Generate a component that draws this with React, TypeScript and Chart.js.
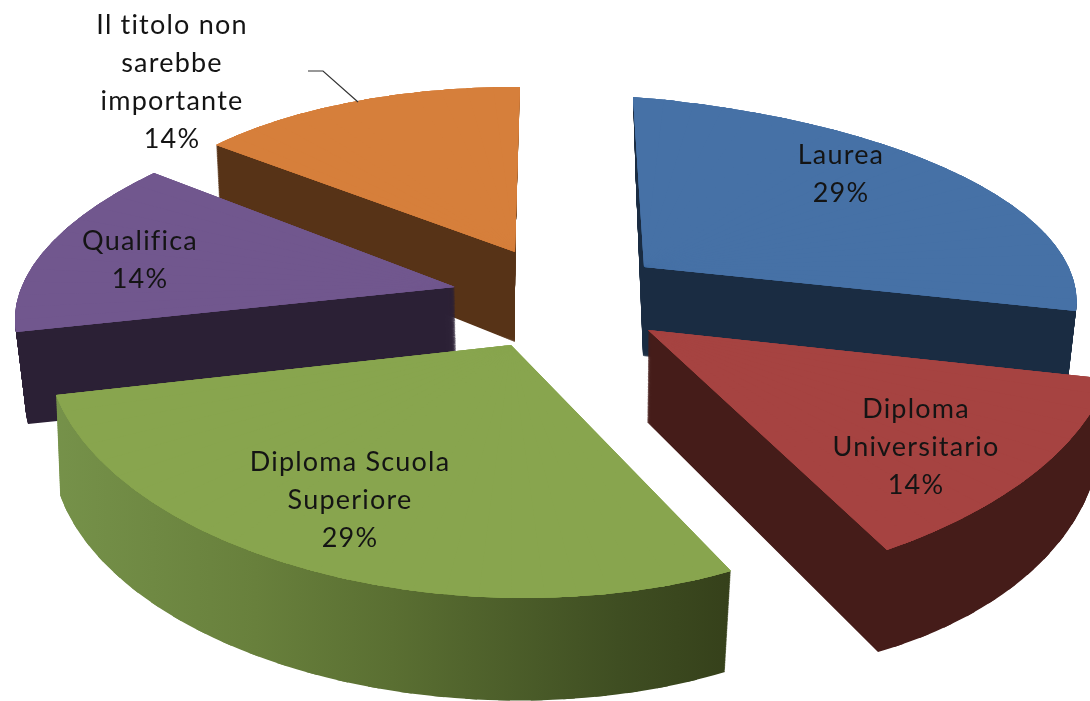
import React, { useEffect, useRef } from "react";
import { Chart, registerables } from "chart.js";

Chart.register(...registerables);

// ---- data ----
const categories = ["Laurea", "Diploma Universitario", "Diploma Scuola Superiore", "Qualifica", "Il titolo non sarebbe importante"];
const seriesValues = [2, 1, 2, 1, 1];
const labelLines = [["Laurea"], ["Diploma", "Universitario"], ["Diploma Scuola", "Superiore"], ["Qualifica"], ["Il titolo non", "sarebbe", "importante"]];

// ---- style ----
const topColors = ["#4671a6", "#a64341", "#88a54e", "#71578e", "#d67f3b"];
const wallStops: [number, string][][] = [
  [[0, "#1a2c42"], [1, "#1a2c42"]],
  [[0, "#451c19"], [1, "#451c19"]],
  [[0, "#76924a"], [0.3, "#68803c"], [0.5, "#5a6f32"], [0.83, "#3f4e22"], [1, "#35401a"]],
  [[0, "#2b2035"], [1, "#2b2035"]],
  [[0, "#573317"], [1, "#573317"]],
];
const drawOrder = [0, 1, 4, 3, 2];

// Camera of the exploded perspective pie: where each wedge's centre, arc start,
// arc middle and arc end land, for its upper and lower face.
type P = [number, number];
const viewTop: P[][] = [
  [[644, 267], [633, 97], [960, 175], [1076, 311]],
  [[648, 330], [1108, 379], [1033, 474], [887, 550]],
  [[511, 345], [731, 571], [317, 572], [56, 395]],
  [[455, 287], [16, 332], [45, 250], [154, 173]],
  [[515, 252], [216, 145], [352, 102], [520, 87]],
];
const viewBottom: P[][] = [
  [[643, 356], [636, 186], [952, 263], [1066, 397]],
  [[647, 422], [1098, 462], [1025, 577], [878, 652]],
  [[511, 445], [725, 672], [317, 675], [60, 495]],
  [[457, 380], [28, 424], [52, 340], [160, 265]],
  [[515, 342], [220, 224], [352, 185], [511, 175]],
];
const labelPos: P[] = [[841, 155], [916, 409], [350, 462], [140, 241], [172, 25]];
const lineGap = 38;
const leader: P[] = [[308, 71], [323, 71], [358, 102]];

type M = number[];

function solve(a: number[][], b: number[]): number[] {
  const n = b.length;
  const m = a.map((r, i) => [...r, b[i]]);
  for (let c = 0; c < n; c++) {
    let p = c;
    for (let r = c + 1; r < n; r++) if (Math.abs(m[r][c]) > Math.abs(m[p][c])) p = r;
    [m[c], m[p]] = [m[p], m[c]];
    for (let r = 0; r < n; r++) {
      if (r === c) continue;
      const f = m[r][c] / m[c][c];
      for (let k = c; k <= n; k++) m[r][k] -= f * m[c][k];
    }
  }
  return m.map((r, i) => r[n] / r[i]);
}

// projective map from the unit-circle wedge to the four camera points
function homography(src: P[], dst: P[]) {
  const a: number[][] = [];
  const b: number[] = [];
  src.forEach(([x, y], i) => {
    const [u, v] = dst[i];
    a.push([x, y, 1, 0, 0, 0, -u * x, -u * y]);
    b.push(u);
    a.push([0, 0, 0, x, y, 1, -v * x, -v * y]);
    b.push(v);
  });
  const h = solve(a, b);
  return (x: number, y: number): P => {
    const w = h[6] * x + h[7] * y + 1;
    return [(h[0] * x + h[1] * y + h[2]) / w, (h[3] * x + h[4] * y + h[5]) / w];
  };
}

// affine matrix taking the chart-space wedge (s..e) onto three projected points
function wedgeMatrix(cx: number, cy: number, r: number, s: number, e: number, A: P, p: P, q: P): M {
  const ux = r * Math.cos(s), uy = r * Math.sin(s);
  const vx = r * Math.cos(e), vy = r * Math.sin(e);
  const det = ux * vy - uy * vx;
  const px = p[0] - A[0], py = p[1] - A[1];
  const qx = q[0] - A[0], qy = q[1] - A[1];
  const a = (px * vy - qx * uy) / det;
  const c = (qx * ux - px * vx) / det;
  const b = (py * vy - qy * uy) / det;
  const d = (qy * ux - py * vx) / det;
  return [a, b, c, d, A[0] - a * cx - c * cy, A[1] - b * cx - d * cy];
}

function wedgeMatrices(arc: any, pts: P[], n: number): M[] {
  const s = arc.startAngle, e = arc.endAngle;
  const mid = (s + e) / 2;
  const H = homography(
    [[0, 0], [Math.cos(s), Math.sin(s)], [Math.cos(mid), Math.sin(mid)], [Math.cos(e), Math.sin(e)]],
    pts
  );
  const out: M[] = [];
  for (let k = 0; k < n; k++) {
    const a0 = s + ((e - s) * k) / n;
    const a1 = s + ((e - s) * (k + 1)) / n;
    out.push(
      wedgeMatrix(arc.x, arc.y, arc.outerRadius, a0, a1, H(0, 0), H(Math.cos(a0), Math.sin(a0)), H(Math.cos(a1), Math.sin(a1)))
    );
  }
  return out;
}

function drawWedge(ctx: CanvasRenderingContext2D, arc: any, a0: number, a1: number, m: M) {
  arc.startAngle = a0;
  arc.endAngle = a1;
  arc.circumference = a1 - a0;
  ctx.save();
  ctx.transform(m[0], m[1], m[2], m[3], m[4], m[5]);
  arc.draw(ctx);
  ctx.restore();
}

function drawFace(ctx: CanvasRenderingContext2D, arc: any, s: number, e: number, ms: M[], color: string) {
  const original = arc.options;
  arc.options = Object.create(original, {
    backgroundColor: { value: color },
    borderWidth: { value: 0 },
  });
  const n = ms.length;
  const overlap = 0.025;
  ms.forEach((m, k) => {
    const a0 = s + ((e - s) * k) / n;
    const a1 = s + ((e - s) * (k + 1)) / n;
    drawWedge(ctx, arc, a0, k === n - 1 ? a1 : a1 + overlap, m);
  });
  arc.options = original;
}

const pie3d = {
  id: "pie3d",
  beforeDatasetsDraw(chart: any) {
    const ctx: CanvasRenderingContext2D = chart.ctx;
    const arcs = chart.getDatasetMeta(0).data;
    for (const i of drawOrder) {
      const arc = arcs[i];
      const s = arc.startAngle, e = arc.endAngle, c = arc.circumference;
      const n = Math.ceil((e - s) / 0.07);
      const top = wedgeMatrices(arc, viewTop[i], n);
      const bottom = wedgeMatrices(arc, viewBottom[i], n);
      const off = document.createElement("canvas");
      off.width = chart.width;
      off.height = chart.height;
      const oc = off.getContext("2d") as CanvasRenderingContext2D;
      const steps = 120;
      for (let l = 0; l < steps; l++) {
        const t = l / steps;
        const ms = bottom.map((b, k) => b.map((v, j) => v + (top[k][j] - v) * t));
        drawFace(oc, arc, s, e, ms, "#000");
      }
      oc.globalCompositeOperation = "source-in";
      const g = oc.createLinearGradient(50, 0, 735, 0);
      wallStops[i].forEach(([o, col]) => g.addColorStop(o, col));
      oc.fillStyle = g;
      oc.fillRect(0, 0, off.width, off.height);
      ctx.drawImage(off, 0, 0);
      // a few passes so the wedge joins saturate to a flat colour
      for (let pass = 0; pass < 3; pass++) drawFace(ctx, arc, s, e, top, topColors[i]);
      arc.startAngle = s;
      arc.endAngle = e;
      arc.circumference = c;
    }
    return false;
  },
  afterDraw(chart: any) {
    const ctx: CanvasRenderingContext2D = chart.ctx;
    const total = seriesValues.reduce((a, b) => a + b, 0);
    ctx.save();
    ctx.strokeStyle = "#333";
    ctx.lineWidth = 1.2;
    ctx.beginPath();
    leader.forEach(([x, y], k) => (k ? ctx.lineTo(x, y) : ctx.moveTo(x, y)));
    ctx.stroke();
    ctx.fillStyle = "#141414";
    ctx.textAlign = "center";
    ctx.textBaseline = "middle";
    ctx.font = "27px Lato";
    (ctx as any).letterSpacing = "1.2px";
    labelLines.forEach((lines, i) => {
      const all = [...lines, Math.round((seriesValues[i] / total) * 100) + "%"];
      all.forEach((t, k) => ctx.fillText(t, labelPos[i][0], labelPos[i][1] + k * lineGap));
    });
    ctx.restore();
  },
};

export default function App() {
  const ref = useRef<HTMLCanvasElement>(null);
  useEffect(() => {
    const chart = new Chart(ref.current as HTMLCanvasElement, {
      type: "pie",
      data: {
        labels: categories,
        datasets: [{ data: seriesValues, backgroundColor: topColors, borderWidth: 0 }],
      },
      options: {
        animation: false,
        responsive: false,
        plugins: { legend: { display: false }, tooltip: { enabled: false } },
      },
      plugins: [pie3d],
    } as any);
    return () => chart.destroy();
  }, []);
  return (
    <div style={{ position: "fixed", left: 0, top: 0, width: 1090, height: 701, background: "#fff", overflow: "hidden" }}>
      <canvas ref={ref} width={1090} height={701} style={{ display: "block", filter: "blur(0.6px)" }} />
    </div>
  );
}
